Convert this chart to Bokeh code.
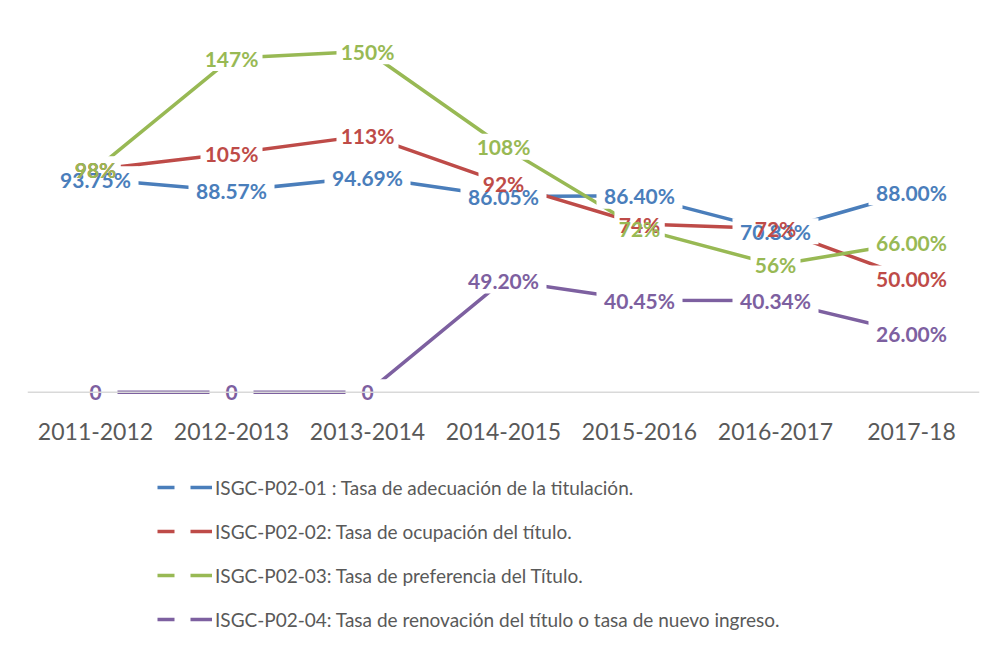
from bokeh.plotting import figure
from bokeh.models import ColumnDataSource, Range1d, FactorRange, Legend, LegendItem, Span
from bokeh.layouts import column
from bokeh.core.properties import value
from bokeh.embed import file_html
from bokeh.resources import INLINE

categories = ["2011-2012", "2012-2013", "2013-2014", "2014-2015", "2015-2016", "2016-2017", "2017-18"]

s1_name = "ISGC-P02-01 : Tasa de adecuación de la titulación."
s1_vals = [93.75, 88.57, 94.69, 86.05, 86.40, 70.83, 88.00]
s1_labels = ["93.75%", "88.57%", "94.69%", "86.05%", "86.40%", "70.83%", "88.00%"]

s2_name = "ISGC-P02-02: Tasa de ocupación del título."
s2_vals = [98, 105, 113, 92, 74, 72, 50]
s2_labels = ["98%", "105%", "113%", "92%", "74%", "72%", "50.00%"]

s3_name = "ISGC-P02-03: Tasa de preferencia del Título."
s3_vals = [98, 147, 150, 108, 72, 56, 66]
s3_labels = ["98%", "147%", "150%", "108%", "72%", "56%", "66.00%"]

s4_name = "ISGC-P02-04: Tasa de renovación del título o tasa de nuevo ingreso."
s4_vals = [0, 0, 0, 49.20, 40.45, 40.34, 26.00]
s4_labels = ["0", "0", "0", "49.20%", "40.45%", "40.34%", "26.00%"]

series = [
    (s1_name, s1_vals, s1_labels, "#4A7EBB"),
    (s2_name, s2_vals, s2_labels, "#BE4B48"),
    (s3_name, s3_vals, s3_labels, "#98B954"),
    (s4_name, s4_vals, s4_labels, "#7D60A0"),
]

CAT_PX = 136.0   # pixels per category on the x axis
VAL_PX = 2.273   # pixels per percent on the y axis

p = figure(
    width=988, height=444,
    x_range=FactorRange(*categories, range_padding=0),
    y_range=Range1d(-8, 160),
    output_backend="svg", toolbar_location=None,
    min_border_left=27, min_border_right=9, min_border_top=28, min_border_bottom=34,
)
p.outline_line_color = None
p.xgrid.visible = False
p.ygrid.visible = False
p.yaxis.visible = False

ax = p.xaxis[0]
ax.axis_line_color = None
ax.major_tick_line_color = None
ax.minor_tick_line_color = None
ax.major_label_text_font = "Lato"
ax.major_label_text_font_size = "23px"
ax.major_label_text_color = "#595959"
ax.major_label_standoff = 6

p.add_layout(Span(location=0, dimension="width", line_color="#D9D9D9", line_width=1.5))

# lines
for name, vals, labels, color in series:
    src = ColumnDataSource(dict(x=categories, y=vals))
    p.line("x", "y", source=src, line_color=color, line_width=3.5)

# white boxes behind the labels (the lines stop at the labels)
for name, vals, labels, color in series:
    src = ColumnDataSource(dict(x=categories, y=vals,
                                w=[max(12 * len(t) + 14, 44) / CAT_PX for t in labels]))
    p.rect("x", "y", width="w", height=26 / VAL_PX,
           source=src, fill_color="white", fill_alpha=1.0, line_color=None)

# label texts
for name, vals, labels, color in series:
    src = ColumnDataSource(dict(x=categories, y=vals, t=labels))
    p.text("x", "y", text="t", source=src, text_align="center", text_baseline="middle",
           text_font=value("Lato"), text_font_style="bold", text_font_size="21px",
           text_color=color)

# legend figure
lg = figure(
    width=988, height=194, x_range=Range1d(0, 1), y_range=Range1d(0, 1),
    output_backend="svg", toolbar_location=None,
    min_border_left=0, min_border_right=0, min_border_top=0, min_border_bottom=0,
)
lg.axis.visible = False
lg.grid.visible = False
lg.outline_line_color = None

items = []
for name, vals, labels, color in series:
    r = lg.line([-5, -4], [-5, -4], line_color=color, line_width=3.5, line_dash="17 16 30")
    items.append(LegendItem(label=name, renderers=[r]))

legend = Legend(
    items=items, location=(130, -3), orientation="vertical",
    glyph_width=55, glyph_height=44, label_height=44, spacing=0,
    label_standoff=3, padding=0, margin=0,
    border_line_color=None, background_fill_alpha=0,
    label_text_font="Lato", label_text_font_size="19px", label_text_color="#595959",
)
lg.add_layout(legend, "center")

layout = column(p, lg, spacing=0)
open("out.html", "w").write(file_html(layout, INLINE))
